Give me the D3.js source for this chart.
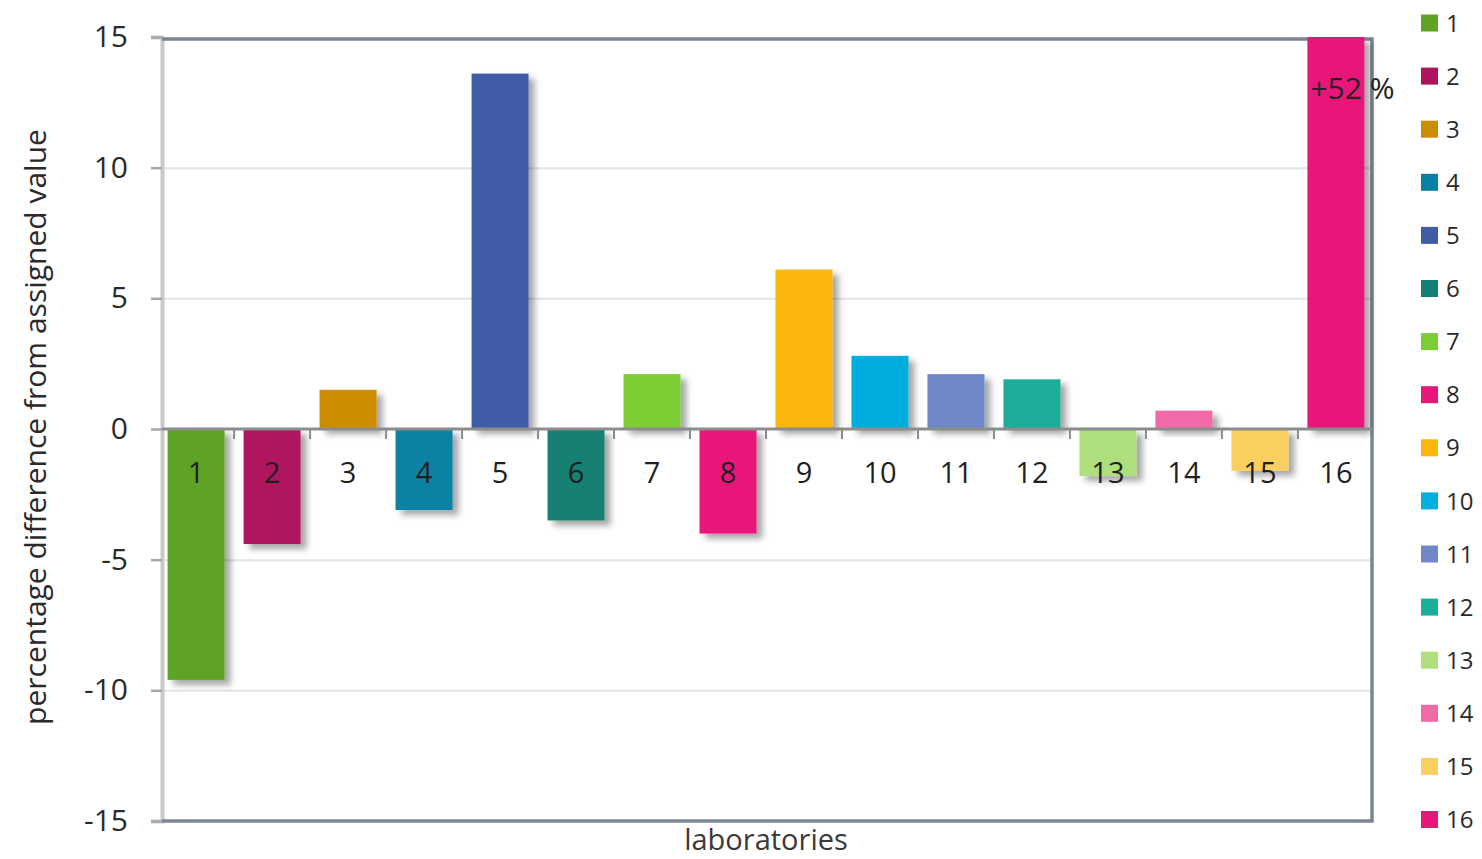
<!DOCTYPE html>
<html>
<head>
<meta charset="utf-8">
<script src="https://cdn.jsdelivr.net/npm/d3@7/dist/d3.min.js"></script>
<style>
  html, body { margin: 0; padding: 0; background: #fff; }
  svg { display: block; font-family: "Open Sans", "DejaVu Sans", sans-serif; }
</style>
</head>
<body>
<svg id="chart" width="1482" height="859"></svg>
<script>
// Laboratory identifiers
const labs = ["1","2","3","4","5","6","7","8","9","10","11","12","13","14","15","16"];
// Percentage difference of each laboratory from the assigned value
const diffs = [-9.6, -4.4, 1.5, -3.1, 13.6, -3.5, 2.1, -4.0, 6.1, 2.8, 2.1, 1.9, -1.8, 0.7, -1.6, 52];
// Bar colour per laboratory
const labColors = ["#5fa326","#b0135d","#cc8d05","#0781a3","#405ca7","#138072","#7dce36","#e9167a",
                   "#fbb60b","#04aede","#7188c8","#1bae99","#addf7b","#f16aa8","#f9d05f","#e9167a"];
// Value axis ticks
const yTicks = [-15, -10, -5, 0, 5, 10, 15];
const yDomain = [-15, 15];

const svg = d3.select("#chart");
const plotL = 162, plotR = 1372, plotT = 37, plotB = 821;

const x = d3.scaleBand().domain(labs).range([plotL - 2, plotR]).paddingInner(0.25).paddingOuter(0.1);
const y = d3.scaleLinear().domain(yDomain).range([plotB, plotT]).clamp(true);
const y0 = y(0);

// drop shadow for the bars
const defs = svg.append("defs");
const f = defs.append("filter").attr("id", "shadow")
  .attr("x", "-20%").attr("y", "-20%").attr("width", "160%").attr("height", "160%");
f.append("feDropShadow").attr("dx", 6).attr("dy", 5).attr("stdDeviation", 3)
  .attr("flood-color", "#000").attr("flood-opacity", 0.35);

// horizontal gridlines
const grid = svg.append("g").attr("transform", `translate(${plotL},0)`)
  .call(d3.axisLeft(y).tickValues(yTicks.filter(d => d !== 0 && Math.abs(d) !== 15))
    .tickSize(-(plotR - plotL)).tickFormat(""));
grid.select(".domain").remove();
grid.selectAll(".tick line").attr("stroke", "#e4e4e4").attr("stroke-width", 2);

// value axis
const yAxis = svg.append("g").attr("transform", `translate(${plotL},0)`)
  .call(d3.axisLeft(y).tickValues(yTicks).tickSize(11).tickPadding(23).tickFormat(d => String(d)));
yAxis.select(".domain").attr("stroke", "#c9c9c9").attr("stroke-width", 4);
yAxis.selectAll(".tick line").attr("stroke", "#a8a8a8").attr("stroke-width", 2.5);
yAxis.selectAll(".tick text").attr("font-size", 30).attr("fill", "#2a2a2a")
  .attr("font-family", "Open Sans, sans-serif");

// plot frame: top, right and bottom edges
svg.append("path")
  .attr("d", `M${plotL},${plotT + 2}H${plotR}V${plotB}H${plotL}`)
  .attr("fill", "none").attr("stroke", "#7c8594").attr("stroke-width", 3.5);

// bars
svg.append("g").selectAll("rect").data(labs).join("rect")
  .attr("x", d => x(d))
  .attr("width", x.bandwidth())
  .attr("y", (d, i) => Math.min(y(diffs[i]), y0))
  .attr("height", (d, i) => Math.abs(y(diffs[i]) - y0))
  .attr("fill", (d, i) => labColors[i])
  .attr("filter", "url(#shadow)");

// zero line with category-boundary ticks
svg.append("line").attr("x1", plotL).attr("x2", plotR).attr("y1", y0).attr("y2", y0)
  .attr("stroke", "#8c8c8c").attr("stroke-width", 3);
const step = x.step();
svg.append("g").selectAll("line").data(labs.slice(1)).join("line")
  .attr("x1", d => x(d) - step * x.paddingInner() / 2)
  .attr("x2", d => x(d) - step * x.paddingInner() / 2)
  .attr("y1", y0).attr("y2", y0 + 10)
  .attr("stroke", "#8c8c8c").attr("stroke-width", 2);

// laboratory labels below the zero line
svg.append("g").selectAll("text").data(labs).join("text")
  .attr("x", d => x(d) + x.bandwidth() / 2)
  .attr("y", y0 + 54)
  .attr("text-anchor", "middle")
  .attr("font-size", 29)
  .attr("fill", "#1f1f1f")
  .text(d => d);

// value note for the clipped bar
const last = labs.length - 1;
svg.append("text")
  .attr("x", x(labs[last]) + 3)
  .attr("y", 99)
  .attr("font-size", 30)
  .attr("fill", "#222")
  .text(`+${diffs[last]} %`);

// axis titles
svg.append("text")
  .attr("transform", `translate(46,${(plotT + plotB) / 2 - 2}) rotate(-90)`)
  .attr("text-anchor", "middle")
  .attr("font-size", 30)
  .attr("fill", "#2a2a2a")
  .text("percentage difference from assigned value");
svg.append("text")
  .attr("x", 766)
  .attr("y", 850)
  .attr("text-anchor", "middle")
  .attr("font-size", 29)
  .attr("fill", "#3a3a3a")
  .text("laboratories");

// legend
const legend = svg.append("g").selectAll("g").data(labs).join("g")
  .attr("transform", (d, i) => `translate(1421,${23 + i * 53.1})`);
legend.append("rect").attr("x", 0).attr("y", -8.5).attr("width", 17).attr("height", 17)
  .attr("fill", (d, i) => labColors[i]);
legend.append("text").attr("x", 25).attr("y", 0).attr("dy", "0.36em")
  .attr("font-size", 24).attr("fill", "#2a2a2a").text(d => d);
</script>
</body>
</html>
